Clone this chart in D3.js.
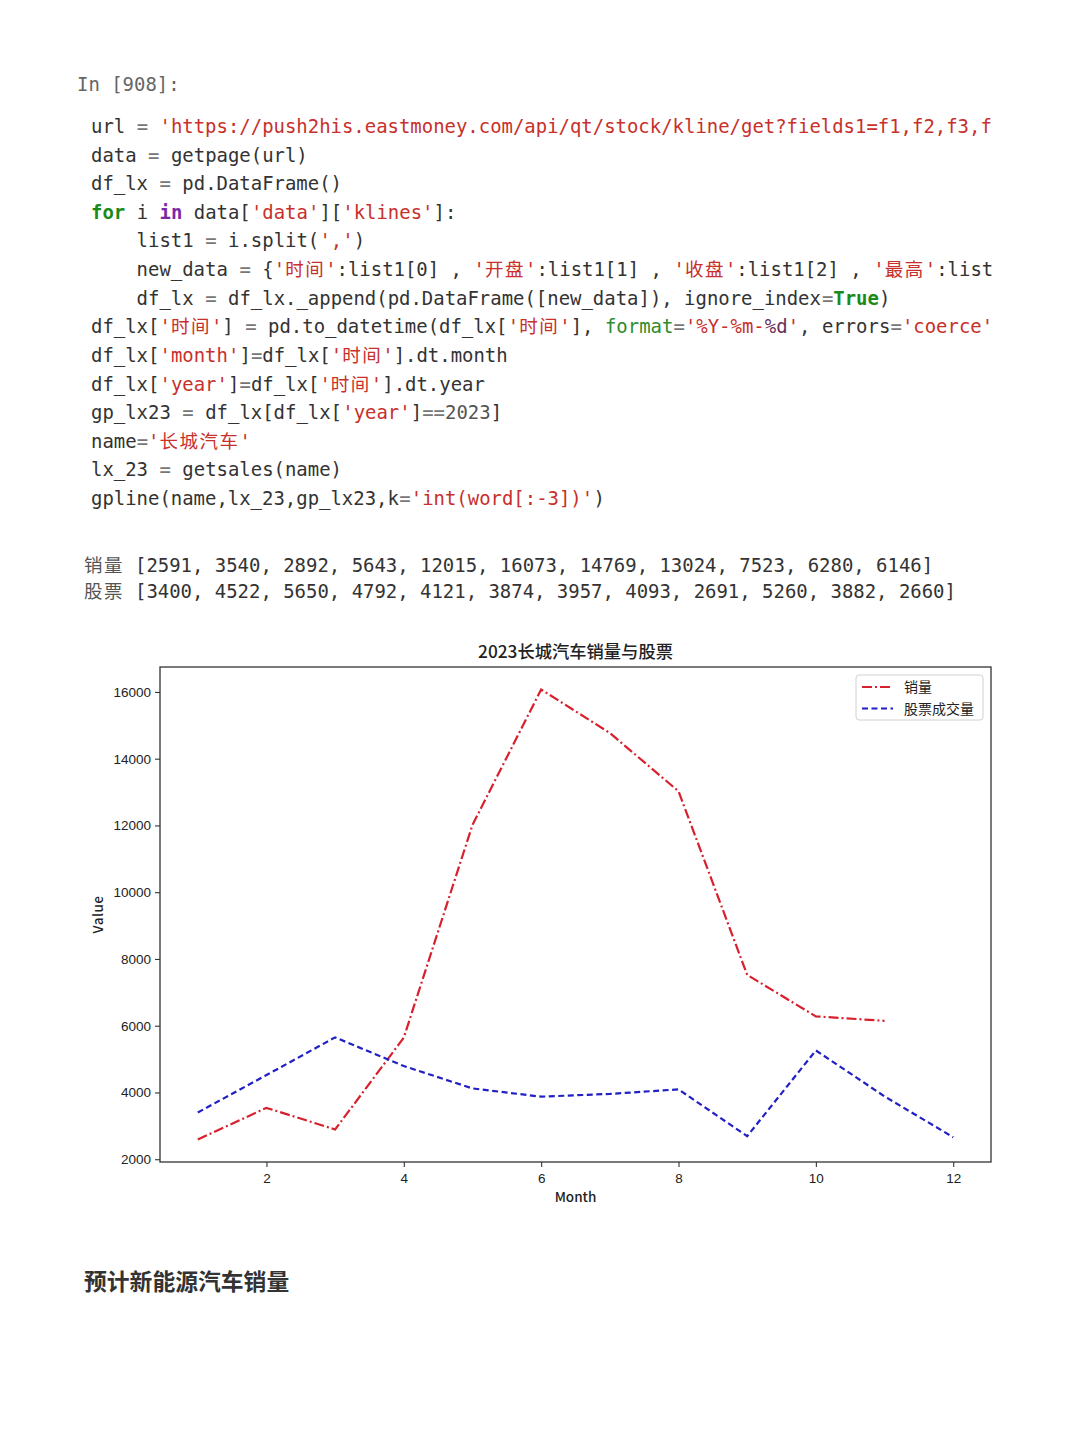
<!DOCTYPE html>
<html>
<head>
<meta charset="utf-8">
<script src="https://cdn.jsdelivr.net/npm/d3@7"></script>
<style>
  html, body { margin: 0; padding: 0; background: #fff; }
  svg { display: block; }
</style>
</head>
<body>
<svg id="page" width="1080" height="1443"></svg>
<script>
// ---------------- DATA ----------------
const months = [1, 2, 3, 4, 5, 6, 7, 8, 9, 10, 11, 12];
const sales = [2591, 3540, 2892, 5643, 12015, 16073, 14769, 13024, 7523, 6280, 6146];
const stock = [3400, 4522, 5650, 4792, 4121, 3874, 3957, 4093, 2691, 5260, 3882, 2660];
const xTicks = [2, 4, 6, 8, 10, 12];
const yTicks = [2000, 4000, 6000, 8000, 10000, 12000, 14000, 16000];
const seriesNames = ["销量", "股票成交量"];
const outputLabels = ["销量", "股票"];
const chartTitle = "2023长城汽车销量与股票";
const xLabel = "Month";
const yLabel = "Value";
const cellPrompt = "In [908]:";
const heading = "预计新能源汽车销量";

// code lines as [text, kind] tokens (as visible in the cell, cut at its right edge)
const codeLines = [
  [["url", "t"], [" = ", "o"], ["'https://push2his.eastmoney.com/api/qt/stock/kline/get?fields1=f1,f2,f3,f", "s"]],
  [["data", "t"], [" = ", "o"], ["getpage(url)", "t"]],
  [["df_lx", "t"], [" = ", "o"], ["pd.DataFrame()", "t"]],
  [["for", "k"], [" i ", "t"], ["in", "p"], [" data[", "t"], ["'data'", "s"], ["][", "t"], ["'klines'", "s"], ["]:", "t"]],
  [["    list1", "t"], [" = ", "o"], ["i.split(", "t"], ["','", "s"], [")", "t"]],
  [["    new_data", "t"], [" = ", "o"], ["{", "t"], ["'时间'", "s"], [":list1[0] , ", "t"], ["'开盘'", "s"], [":list1[1] , ", "t"], ["'收盘'", "s"], [":list1[2] , ", "t"], ["'最高'", "s"], [":list", "t"]],
  [["    df_lx", "t"], [" = ", "o"], ["df_lx._append(pd.DataFrame([new_data]), ignore_index", "t"], ["=", "o"], ["True", "k"], [")", "t"]],
  [["df_lx[", "t"], ["'时间'", "s"], ["]", "t"], [" = ", "o"], ["pd.to_datetime(df_lx[", "t"], ["'时间'", "s"], ["], ", "t"], ["format", "g"], ["=", "o"], ["'%Y-%m-", "s"], ["%d", "d"], ["'", "s"], [", errors", "t"], ["=", "o"], ["'coerce'", "s"]],
  [["df_lx[", "t"], ["'month'", "s"], ["]", "t"], ["=", "o"], ["df_lx[", "t"], ["'时间'", "s"], ["].dt.month", "t"]],
  [["df_lx[", "t"], ["'year'", "s"], ["]", "t"], ["=", "o"], ["df_lx[", "t"], ["'时间'", "s"], ["].dt.year", "t"]],
  [["gp_lx23", "t"], [" = ", "o"], ["df_lx[df_lx[", "t"], ["'year'", "s"], ["]", "t"], ["==", "o"], ["2023", "n"], ["]", "t"]],
  [["name", "t"], ["=", "o"], ["'长城汽车'", "s"]],
  [["lx_23", "t"], [" = ", "o"], ["getsales(name)", "t"]],
  [["gpline(name,lx_23,gp_lx23,k", "t"], ["=", "o"], ["'int(word[:-3])'", "s"], [")", "t"]]
];

// ---------------- STYLE ----------------
const colors = { t: "#333", o: "#777", s: "#c8302c", k: "#1a8a1a", p: "#7b28a8", g: "#2e8b2e", d: "#6b2d5c", n: "#555" };
const monoFont = "'DejaVu Sans Mono', 'Liberation Mono', monospace";
const cjkFont = "'Noto Sans CJK SC', sans-serif";
const CW = 11.42;  // mono char advance
const CJKW = 20;   // cjk char advance
const isCJK = ch => /[\u3000-\u9fff\uff00-\uffef]/.test(ch);

const svg = d3.select("#page");

function drawRun(g, str, x0, y0, fill, opts = {}) {
  let buf = "", bufX = x0, cx = x0;
  const flush = () => {
    if (buf.length) {
      g.append("text").attr("x", bufX).attr("y", y0).attr("fill", fill)
        .attr("font-family", monoFont).attr("font-size", 18.95)
        .attr("font-weight", opts.bold ? "bold" : null)
        .style("white-space", "pre")
        .text(buf);
    }
    buf = "";
  };
  for (const ch of str) {
    if (isCJK(ch)) {
      flush();
      g.append("text").attr("x", cx).attr("y", y0).attr("fill", fill)
        .attr("font-family", cjkFont).attr("font-size", 18.5).text(ch);
      cx += CJKW;
    } else {
      if (!buf.length) bufX = cx;
      buf += ch;
      cx += CW;
    }
  }
  flush();
  return cx;
}

// prompt
drawRun(svg, cellPrompt, 77, 91, "#666");

// code
const codeG = svg.append("g");
codeLines.forEach((ln, i) => {
  const ly = 133 + i * 28.62;
  let cx = 91;
  ln.forEach(([txt, kind]) => {
    cx = drawRun(codeG, txt, cx, ly, colors[kind], { bold: kind === "k" || kind === "p" });
  });
});

// output
const outputs = [sales, stock];
outputs.forEach((arr, i) => {
  const oy = 572 + i * 26;
  drawRun(svg, outputLabels[i], 84, oy, "#555");
  drawRun(svg, "[" + arr.join(", ") + "]", 135, oy, "#333");
});

// ---------------- CHART ----------------
const pLeft = 160, pRight = 991, pTop = 667, pBottom = 1162;
const xS = d3.scaleLinear().domain([0.45, 12.55]).range([pLeft, pRight]);
const yS = d3.scaleLinear().domain([1917, 16747]).range([pBottom, pTop]);

const chart = svg.append("g");
const tickFont = "'Liberation Sans', Arial, sans-serif";

const xAxis = chart.append("g").attr("transform", `translate(0,${pBottom})`)
  .call(d3.axisBottom(xS).tickValues(xTicks).tickSize(5).tickPadding(6).tickFormat(d3.format("d")));
const yAxis = chart.append("g").attr("transform", `translate(${pLeft},0)`)
  .call(d3.axisLeft(yS).tickValues(yTicks).tickSize(5).tickPadding(4).tickFormat(d3.format("d")));
[xAxis, yAxis].forEach(a => {
  a.select(".domain").remove();
  a.selectAll("line").attr("stroke", "#333").attr("stroke-width", 1.1);
  a.selectAll("text").attr("fill", "#222").attr("font-family", tickFont).attr("font-size", 13.5);
});

chart.append("rect").attr("x", pLeft).attr("y", pTop).attr("width", pRight - pLeft).attr("height", pBottom - pTop)
  .attr("fill", "none").attr("stroke", "#333").attr("stroke-width", 1.3);

const salesColor = "#d8202c", stockColor = "#2020c4";
const salesDash = "10,3,2,3", stockDash = "6,3.5";

const lineGen = d3.line().x(d => xS(d[0])).y(d => yS(d[1]));
chart.append("path").datum(sales.map((v, i) => [months[i], v]))
  .attr("d", lineGen).attr("fill", "none").attr("stroke", salesColor)
  .attr("stroke-width", 2.2).attr("stroke-dasharray", salesDash);
chart.append("path").datum(stock.map((v, i) => [months[i], v]))
  .attr("d", lineGen).attr("fill", "none").attr("stroke", stockColor)
  .attr("stroke-width", 2.2).attr("stroke-dasharray", stockDash);

chart.append("text").attr("x", (pLeft + pRight) / 2).attr("y", 658).attr("text-anchor", "middle")
  .attr("font-family", cjkFont).attr("font-size", 17.3).attr("font-weight", 500).attr("fill", "#222").text(chartTitle);
chart.append("text").attr("x", (pLeft + pRight) / 2).attr("y", 1202).attr("text-anchor", "middle")
  .attr("font-family", cjkFont).attr("font-size", 13.5).attr("font-weight", 500).attr("fill", "#222").text(xLabel);
chart.append("text").attr("transform", `translate(103,${(pTop + pBottom) / 2}) rotate(-90)`)
  .attr("text-anchor", "middle").attr("font-family", cjkFont).attr("font-size", 13.5).attr("font-weight", 500)
  .attr("fill", "#222").attr("letter-spacing", 0.5).text(yLabel);

const lg = chart.append("g");
lg.append("rect").attr("x", 856).attr("y", 675).attr("width", 127).attr("height", 45).attr("rx", 3)
  .attr("fill", "#fff").attr("stroke", "#d0d0d0").attr("stroke-width", 1);
[[salesColor, salesDash], [stockColor, stockDash]].forEach(([c, dash], i) => {
  const ly = 687 + i * 21.5;
  lg.append("line").attr("x1", 862).attr("x2", 893).attr("y1", ly).attr("y2", ly)
    .attr("stroke", c).attr("stroke-width", 2.2).attr("stroke-dasharray", dash);
  lg.append("text").attr("x", 904).attr("y", ly + 5).attr("font-family", cjkFont)
    .attr("font-size", 14).attr("fill", "#222").text(seriesNames[i]);
});

svg.append("text").attr("x", 84).attr("y", 1290).attr("font-family", cjkFont)
  .attr("font-size", 22.8).attr("font-weight", "bold").attr("fill", "#333").text(heading);
</script>
</body>
</html>
